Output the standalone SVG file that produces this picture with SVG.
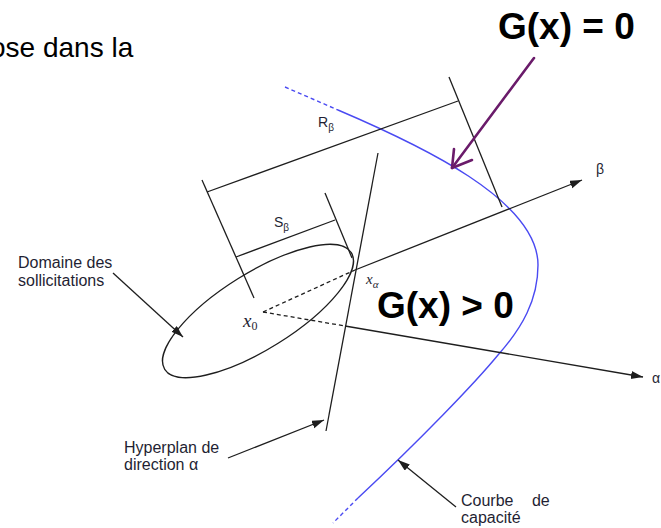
<svg xmlns="http://www.w3.org/2000/svg" width="661" height="528" viewBox="0 0 661 528">
<defs>
<style>
.ln{stroke:#1e1e1e;stroke-width:1.3;fill:none}
.dash{stroke:#1e1e1e;stroke-width:1.3;fill:none;stroke-dasharray:4 3}
.cv{stroke:#4a4af2;stroke-width:1.4;fill:none}
.cvd{stroke:#4a4af2;stroke-width:1.4;fill:none;stroke-dasharray:4 3}
.lbl{font-family:"Liberation Sans",Arial,sans-serif;font-size:16px;fill:#1f1f33}
.sm{font-family:"Liberation Sans",Arial,sans-serif;font-size:14px;fill:#1f1f33}
.math{font-family:"Liberation Serif","Times New Roman",serif;font-style:italic;fill:#1f1f33}
.big{font-family:"Liberation Sans",Arial,sans-serif;font-weight:bold;font-size:37px;fill:#000}
</style>
<marker id="ah" markerUnits="userSpaceOnUse" markerWidth="13" markerHeight="9" refX="12" refY="4" orient="auto">
<path d="M0,0 L12,4 L0,8 z" fill="#1e1e1e"/>
</marker>
</defs>

<text x="-10" y="57" font-family="Liberation Sans, Arial, sans-serif" font-size="28" fill="#000">ose dans la</text>

<g id="ellipse-domaine">
<ellipse cx="258" cy="311" rx="110" ry="38" transform="rotate(-32 258 311)" class="ln"/>
</g>

<g id="curve-capacite">
<path class="cvd" d="M285,87 L338,110"/>
<path class="cv" d="M338,110 C420,145 538,200 538,265 C538,300 522,328 498,355 C475,383 420,440 358,498"/>
<path class="cvd" d="M358,498 L333,523"/>
</g>

<g id="connectors">
<line class="ln" x1="355" y1="270" x2="582" y2="180" marker-end="url(#ah)"/>
<line class="dash" x1="263" y1="312" x2="345" y2="326"/>
<line class="ln" x1="345" y1="326" x2="643" y2="377" marker-end="url(#ah)"/>
<line class="dash" x1="263" y1="312" x2="355" y2="270"/>
<line class="ln" x1="378" y1="153" x2="326" y2="431"/>
<line class="ln" x1="202" y1="180" x2="254" y2="298"/>
<line class="ln" x1="207" y1="192" x2="458" y2="101"/>
<line class="ln" x1="449" y1="77" x2="502" y2="207"/>
<line class="ln" x1="236" y1="257" x2="335" y2="220"/>
<line class="ln" x1="325" y1="193" x2="352" y2="258"/>
<line class="ln" x1="113" y1="273" x2="183" y2="337" marker-end="url(#ah)"/>
<line class="ln" x1="228" y1="458" x2="324" y2="420" marker-end="url(#ah)"/>
<line class="ln" x1="456" y1="507" x2="398" y2="460" marker-end="url(#ah)"/>
<g stroke="#6a1b6a" stroke-width="2.6" fill="none" stroke-linecap="round" stroke-linejoin="round">
<line x1="534" y1="58" x2="452" y2="168"/>
<polyline points="454,149 452,168 472,160"/>
</g>
</g>

<g id="labels">
<text class="sm" x="318" y="127">R<tspan font-size="10" dy="4">β</tspan></text>
<text class="sm" x="274" y="227">S<tspan font-size="10" dy="4">β</tspan></text>
<text class="sm" x="596" y="174">β</text>
<text class="sm" x="652" y="383">α</text>
<text class="math" x="243" y="327" font-size="19">x<tspan font-style="normal" font-size="12" dy="3">0</tspan></text>
<text class="math" x="366" y="284" font-size="15">x<tspan font-size="11" dy="4">α</tspan></text>
<text class="big" x="377" y="318">G(x) &gt; 0</text>
<text class="big" x="498" y="39">G(x) = 0</text>
<text class="lbl" x="18" y="268">Domaine des</text>
<text class="lbl" x="18" y="286">sollicitations</text>
<text class="lbl" x="124" y="453">Hyperplan de</text>
<text class="lbl" x="124" y="470">direction α</text>
<text class="lbl" x="461" y="506" font-size="15" word-spacing="14">Courbe de</text>
<text class="lbl" x="461" y="523" font-size="15">capacité</text>
</g>
</svg>
